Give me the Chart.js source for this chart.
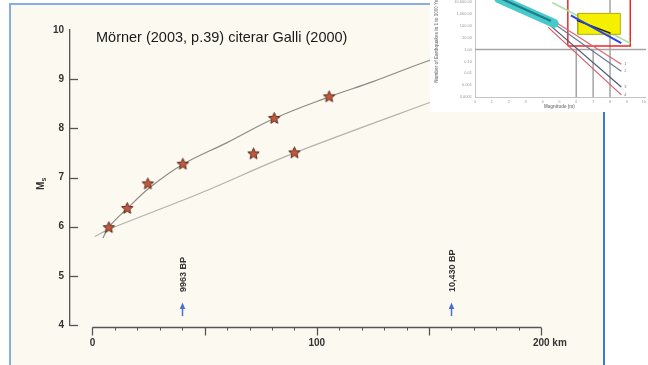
<!DOCTYPE html>
<html>
<head>
<meta charset="utf-8">
<script src="https://cdn.jsdelivr.net/npm/chart.js@4.4.1/dist/chart.umd.min.js"></script>
<style>
  html, body { margin: 0; padding: 0; background: #fff; overflow: hidden; }
  body { width: 648px; height: 365px; position: relative; }
  #paper { position: absolute; left: 9px; top: 3px; width: 592px; height: 380px;
           background: #fcfaf0; border-left: 2px solid #86aee0; border-top: 2px solid #86aee0;
           border-right: 2px solid #3d7ad4; }
  #main { position: absolute; left: 0; top: 0; }
  #inset { position: absolute; left: 430px; top: 0; width: 218px; height: 112px; overflow: hidden; background: #fff; }
  #insetChart { position: absolute; left: 0; top: -15px; }
</style>
</head>
<body>
<div id="paper"></div>
<canvas id="main" width="648" height="365"></canvas>
<div id="inset"><canvas id="insetChart" width="218" height="129"></canvas></div>
<script>
// main plot: magnitude vs distance
const quakeKm = [7.3, 15.5, 24.7, 40.3, 71.8, 81, 90, 105.5];
const quakeMs = [5.98, 6.37, 6.87, 7.27, 7.48, 8.2, 7.5, 8.64];
const upperKm = [4.7, 7.3, 15.5, 26, 40, 60, 81, 105.5, 125, 150, 175];
const upperMs = [5.77, 5.99, 6.37, 6.81, 7.26, 7.71, 8.2, 8.64, 8.95, 9.38, 9.76];
const lowerKm = [1, 8, 48, 90, 150, 175];
const lowerMs = [5.8, 5.96, 6.68, 7.5, 8.52, 8.93];
const yTicks = [4, 5, 6, 7, 8, 9, 10];
const xMajorKm = [0, 50, 100, 150, 200];
const xMinorKm = [10, 20, 30, 40, 60, 70, 80, 90, 110, 120, 130, 140, 160, 170, 180, 190];
const xLabelKm = [0, 100, 200];
const xLabels = ['0', '100', '200 km'];
const arrowKm = [40, 160];
const arrowLabels = ['9963 BP', '10,430 BP'];
const titleText = 'Mörner (2003, p.39) citerar Galli (2000)';

// inset: earthquake frequency vs magnitude (log)
const insetYTicks = [0.0001, 0.001, 0.01, 0.1, 1, 10, 100, 1000, 10000];
const insetYLabels = ['0.0001', '0.001', '0.01', '0.10', '1.00', '10.00', '100.00', '1,000.00', '10,000.00'];
const bandM = [1.4, 4.69];
const bandN = [20000, 166];
const bandCoreM = [1.4, 4.5];
const bandCoreN = [25000, 260];
const fanM = [[4.69, 8.67], [4.75, 8.67], [4.45, 8.67], [4.34, 8.67]];
const fanN = [[245, 0.059], [135, 0.015], [112, 0.00069], [76, 0.00015]];
const fanTags = ['1', '2', '3', '4'];
const blueM = [5.68, 8.67];
const blueN = [776, 3.47];
const greenM = [4.57, 9.2];
const greenN = [9550, 3.47];
const blackM = [6.03, 8.03];
const blackN = [295, 24];
const yellowM = [6.09, 8.61];
const yellowN = [19.5, 1150];
const redBoxM = [5.5, 9.2];
const redBoxN = [2.04, 1e6];

const axisFont = 'bold 10px "Liberation Sans", Arial, sans-serif';

function makeStar(r) {
    const c = document.createElement('canvas');
    const s = Math.ceil(r * 2 + 3);
    c.width = s; c.height = s;
    const g = c.getContext('2d');
    g.translate(s / 2, s / 2);
    g.beginPath();
    for (let i = 0; i < 10; i++) {
        const rad = i % 2 ? r * 0.45 : r;
        const a = -Math.PI / 2 + i * Math.PI / 5;
        g.lineTo(rad * Math.cos(a), rad * Math.sin(a));
    }
    g.closePath();
    g.fillStyle = '#c2573d';
    g.fill();
    g.strokeStyle = '#5e2d1e';
    g.lineWidth = 1;
    g.stroke();
    return c;
}

const toPoints = (xs, ys) => xs.map((v, i) => ({ x: v, y: ys[i] }));

const paperAxes = {
    id: 'paperAxes',
    beforeDatasetsDraw(chart) {
        const { ctx, scales: { x, y } } = chart;
        ctx.save();
        ctx.strokeStyle = '#555';
        ctx.lineWidth = 1.3;
        // y ticks point inward
        yTicks.slice(0, -1).forEach(v => {
            const py = Math.round(y.getPixelForValue(v)) + 0.5;
            ctx.beginPath();
            ctx.moveTo(x.left, py);
            ctx.lineTo(x.left + 8, py);
            ctx.stroke();
        });
        // x axis, detached from the y axis
        const ay = Math.round(y.bottom) + 2.5;
        ctx.beginPath();
        ctx.moveTo(x.getPixelForValue(0), ay);
        ctx.lineTo(x.getPixelForValue(200), ay);
        ctx.stroke();
        xMajorKm.forEach(k => {
            const px = Math.round(x.getPixelForValue(k)) + 0.5;
            ctx.beginPath(); ctx.moveTo(px, ay); ctx.lineTo(px, ay + 8); ctx.stroke();
        });
        ctx.lineWidth = 1;
        xMinorKm.forEach(k => {
            const px = Math.round(x.getPixelForValue(k)) + 0.5;
            ctx.beginPath(); ctx.moveTo(px, ay - 0.5); ctx.lineTo(px, ay + 3); ctx.stroke();
        });
        ctx.fillStyle = '#333';
        ctx.font = axisFont;
        ctx.textBaseline = 'middle';
        xLabelKm.forEach((k, i) => {
            const px = x.getPixelForValue(k);
            const parts = xLabels[i].split(' ');
            ctx.textAlign = 'center';
            ctx.fillText(parts[0], px, ay + 16);
            if (parts.length > 1) {
                const w = ctx.measureText(parts[0]).width;
                ctx.textAlign = 'left';
                ctx.fillText(' ' + parts.slice(1).join(' '), px + w / 2, ay + 16);
            }
        });
        // y axis title M with subscript s
        ctx.save();
        ctx.translate(41, y.getPixelForValue(6.85));
        ctx.rotate(-Math.PI / 2);
        ctx.textAlign = 'left';
        ctx.font = 'bold 10px "Liberation Sans", Arial, sans-serif';
        ctx.fillText('M', -5, 0);
        ctx.font = 'bold 7px "Liberation Sans", Arial, sans-serif';
        ctx.fillText('s', 3.5, 3.5);
        ctx.restore();
        // title
        ctx.fillStyle = '#1a1a1a';
        ctx.font = '14.5px "Liberation Sans", Arial, sans-serif';
        ctx.textAlign = 'left';
        ctx.textBaseline = 'alphabetic';
        ctx.fillText(titleText, 96, 42);
        ctx.restore();
    },
    afterDatasetsDraw(chart) {
        const { ctx, scales: { x, y } } = chart;
        ctx.save();
        arrowKm.forEach((k, i) => {
            const px = Math.round(x.getPixelForValue(k)) + 0.5;
            const tip = y.getPixelForValue(4.46);
            const base = y.getPixelForValue(4.18);
            ctx.strokeStyle = '#4b6fd0';
            ctx.fillStyle = '#4b6fd0';
            ctx.lineWidth = 1.5;
            ctx.beginPath(); ctx.moveTo(px, base); ctx.lineTo(px, tip + 4); ctx.stroke();
            ctx.beginPath();
            ctx.moveTo(px, tip);
            ctx.lineTo(px - 2.8, tip + 6.5);
            ctx.lineTo(px + 2.8, tip + 6.5);
            ctx.closePath();
            ctx.fill();
            ctx.save();
            ctx.translate(px + 1, y.getPixelForValue(4.67));
            ctx.rotate(-Math.PI / 2);
            ctx.fillStyle = '#333';
            ctx.font = 'bold 9px "Liberation Sans", Arial, sans-serif';
            ctx.textAlign = 'left';
            ctx.textBaseline = 'middle';
            ctx.fillText(arrowLabels[i], 0, 0);
            ctx.restore();
        });
        ctx.restore();
    }
};

new Chart(document.getElementById('main'), {
    type: 'scatter',
    data: {
        datasets: [{
            data: toPoints(quakeKm, quakeMs),
            pointStyle: makeStar(6),
            pointRadius: 6,
            showLine: false
        }, {
            data: toPoints(upperKm, upperMs),
            showLine: true,
            pointRadius: 0,
            borderColor: '#8a8a88',
            borderWidth: 1.2,
            tension: 0.4
        }, {
            data: toPoints(lowerKm, lowerMs),
            showLine: true,
            pointRadius: 0,
            borderColor: '#b2b2ae',
            borderWidth: 1.2,
            tension: 0.3
        }]
    },
    options: {
        responsive: false,
        animation: false,
        devicePixelRatio: 1,
        layout: { padding: { left: 0, top: 30, right: 17, bottom: 40 } },
        plugins: { legend: { display: false }, tooltip: { enabled: false } },
        scales: {
            x: { type: 'linear', display: false, min: -10, max: 240 },
            y: {
                min: 4,
                max: 10,
                afterFit: s => { s.width = 70; },
                ticks: { stepSize: 1, font: { family: '"Liberation Sans", Arial, sans-serif', size: 10, weight: 'bold' }, color: '#333', padding: 6 },
                grid: { display: false, drawTicks: false },
                border: { color: '#555', width: 1.3 }
            }
        }
    },
    plugins: [paperAxes]
});

// inset chart
const insetText = {
    id: 'insetText',
    afterDatasetsDraw(chart) {
        const { ctx, scales: { x, y } } = chart;
        ctx.save();
        ctx.fillStyle = '#777';
        ctx.font = '4px Arial, sans-serif';
        ctx.textBaseline = 'middle';
        fanTags.forEach((t, i) => {
            ctx.fillText(t, x.getPixelForValue(8.85), y.getPixelForValue(fanN[i][1]));
        });
        ctx.fillStyle = '#888';
        ctx.font = 'bold 4.5px Arial, sans-serif';
        ctx.textAlign = 'center';
        ctx.fillText('Magnitude (m)', x.getPixelForValue(5), y.bottom + 10);
        ctx.translate(7, y.getPixelForValue(10) );
        ctx.rotate(-Math.PI / 2);
        ctx.fillText('Number of Earthquakes in 1 to 1000 Years', 0, 0);
        ctx.restore();
    }
};

const seg = (xs, ys, color, width, order, extra) => Object.assign({
    data: toPoints(xs, ys),
    showLine: true,
    pointRadius: 0,
    borderColor: color,
    borderWidth: width,
    order: order
}, extra || {});

const boxPts = (ms, ns) => [ms[0], ms[1], ms[1], ms[0], ms[0]].map((m, i) => ({ x: m, y: [ns[0], ns[0], ns[1], ns[1], ns[0]][i] }));

new Chart(document.getElementById('insetChart'), {
    type: 'scatter',
    data: {
        datasets: [
            seg([0, 10.2], [1, 1], '#a4a4a4', 1.5, 20),
            seg([6, 6], [0.0001, 1], '#a4a4a4', 1.5, 20),
            seg([7, 7], [0.0001, 1], '#a4a4a4', 1.5, 20),
            seg([8, 8], [0.0001, 1e6], '#a4a4a4', 1.5, 20),
            { data: boxPts(redBoxM, redBoxN), showLine: true, pointRadius: 0, borderColor: '#f02424', borderWidth: 1.5, order: 19 },
            seg(greenM, greenN, '#a8e2a8', 1.5, 18),
            seg(fanM[0], fanN[0], '#d46a78', 1.2, 16),
            seg(fanM[1], fanN[1], '#6c7a92', 1.2, 16),
            seg(fanM[2], fanN[2], '#4e586e', 1.2, 16),
            seg(fanM[3], fanN[3], '#d45a6a', 1.2, 16),
            seg(bandM, bandN, '#46cacc', 9, 15, { borderCapStyle: 'round' }),
            seg(bandCoreM, bandCoreN, '#1f7d86', 2.2, 14),
            { data: boxPts(yellowM, yellowN), showLine: true, pointRadius: 0, borderColor: '#b4ac10', borderWidth: 1, backgroundColor: '#f4f000', fill: 'shape', order: 12 },
            seg(blackM, blackN, '#222', 1.4, 11),
            seg(blueM, blueN, '#2a44e0', 2, 10)
        ]
    },
    options: {
        responsive: false,
        animation: false,
        devicePixelRatio: 1,
        layout: { padding: 0 },
        plugins: { legend: { display: false }, tooltip: { enabled: false } },
        scales: {
            x: {
                type: 'linear', min: 0, max: 10.13,
                afterFit: s => { s.height = 17; },
                ticks: { stepSize: 1, includeBounds: false, autoSkip: false, maxRotation: 0, font: { size: 4 }, color: '#999', padding: 2 },
                grid: { display: false, drawTicks: false },
                border: { color: '#c4c4c4', width: 1 }
            },
            y: {
                type: 'logarithmic', min: 0.0001, max: 100000,
                afterFit: s => { s.width = 45; },
                afterBuildTicks: s => { s.ticks = insetYTicks.map(v => ({ value: v })); },
                ticks: { autoSkip: false, callback: (v, i) => insetYLabels[i], font: { size: 4 }, color: '#999', padding: 3 },
                grid: { display: false, drawTicks: false },
                border: { color: '#c4c4c4', width: 1 }
            }
        }
    },
    plugins: [insetText]
});
</script>
</body>
</html>
